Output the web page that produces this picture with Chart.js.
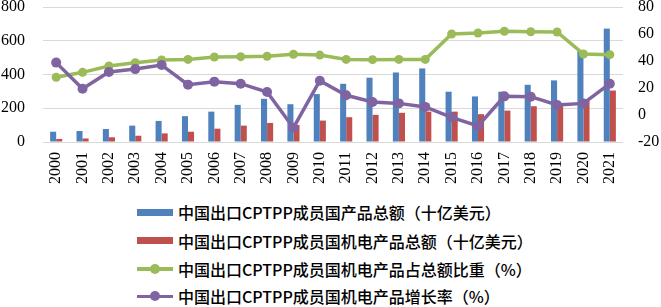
<!DOCTYPE html>
<html>
<head>
<meta charset="utf-8">
<script src="https://cdn.jsdelivr.net/npm/chart.js@4.4.0/dist/chart.umd.min.js"></script>
<style>
  html, body { margin: 0; padding: 0; background: #fff; }
  #wrap { position: relative; width: 661px; height: 307px; overflow: hidden; }
  #box { position: absolute; left: 0; top: 0; width: 661px; height: 196px; }
  .leg { position: absolute; left: 137px; height: 20px; display: flex; align-items: center;
         font-family: "Noto Sans CJK SC", "Noto Sans", sans-serif; font-size: 16px; font-weight: 500; color: #000; white-space: nowrap; }
  .mk { position: relative; width: 36px; height: 20px; margin-right: 5px; }
  .bar { position: absolute; left: 0; top: 6.5px; width: 36px; height: 7px; }
  .ln { position: absolute; left: 0; top: 8.5px; width: 36px; height: 3.5px; }
  .dot { position: absolute; left: 13px; top: 5px; width: 10px; height: 10px; border-radius: 50%; }
</style>
</head>
<body>
<div id="wrap">
  <div id="box"><canvas id="c"></canvas></div>
  <div id="legend"></div>
</div>
<script>
const categories = ["2000","2001","2002","2003","2004","2005","2006","2007","2008","2009","2010","2011","2012","2013","2014","2015","2016","2017","2018","2019","2020","2021"];
const totalExports = [61, 65, 77, 97, 125, 153, 180, 220, 256, 224, 284, 345, 381, 412, 436, 298, 270, 298, 339, 365, 543, 672];
const mechExports = [18, 21, 28, 37, 51, 61, 79, 97, 113, 101, 127, 147, 161, 173, 180, 180, 165, 186, 212, 225, 245, 305];
const mechShare = [28, 31.6, 36.3, 38.7, 40.7, 41.2, 43, 43.2, 43.5, 45, 44.4, 41.2, 41, 41.2, 41.2, 60, 60.7, 62, 61.7, 61.5, 45.2, 44.7];
const mechGrowth = [38.8, 19.5, 31.9, 34, 37, 22.5, 24.7, 23.2, 17, -9.4, 25.4, 14.6, 9.6, 8.6, 6, -1.7, -8.1, 13.8, 13.6, 7.4, 8.6, 23.2];
const leftTicks = [0, 200, 400, 600, 800];
const rightTicks = [-20, 0, 20, 40, 60, 80];
const seriesNames = [
  "中国出口CPTPP成员国产品总额（十亿美元）",
  "中国出口CPTPP成员国机电产品总额（十亿美元）",
  "中国出口CPTPP成员国机电产品占总额比重（%）",
  "中国出口CPTPP成员国机电产品增长率（%）"
];
const colors = ["#4F81BD", "#C0504D", "#9BBB59", "#8064A2"];

const SERIF_FONT = "16px 'Liberation Serif', 'Times New Roman', serif";

function fixPad(s) { s.paddingTop = 7; s.paddingBottom = 7; }

// Tick labels drawn at the positions given by the chart's own scales
const tickLabels = {
  id: 'tickLabels',
  afterDraw(chart) {
    const ctx = chart.ctx;
    const area = chart.chartArea;
    const sx = chart.scales.x, sy = chart.scales.y, sy1 = chart.scales.y1;
    ctx.save();
    ctx.font = SERIF_FONT;
    ctx.fillStyle = '#000';
    ctx.textBaseline = 'middle';
    ctx.textAlign = 'right';
    leftTicks.forEach(v => ctx.fillText(String(v), area.left - 18, sy.getPixelForValue(v)));
    ctx.textAlign = 'left';
    rightTicks.forEach(v => ctx.fillText(String(v), area.right + 15, sy1.getPixelForValue(v)));
    categories.forEach((c, i) => {
      ctx.save();
      ctx.translate(sx.getPixelForValue(i), area.bottom + 10);
      ctx.rotate(-Math.PI / 2);
      ctx.textAlign = 'right';
      ctx.fillText(c, 0, 0);
      ctx.restore();
    });
    ctx.restore();
  }
};

new Chart(document.getElementById('c'), {
  type: 'bar',
  plugins: [tickLabels],
  data: {
    labels: categories,
    datasets: [
      { type: 'bar', label: seriesNames[0], data: totalExports, backgroundColor: colors[0], yAxisID: 'y', order: 3,
        categoryPercentage: 0.46, barPercentage: 1 },
      { type: 'bar', label: seriesNames[1], data: mechExports, backgroundColor: colors[1], yAxisID: 'y', order: 3,
        categoryPercentage: 0.46, barPercentage: 1 },
      { type: 'line', label: seriesNames[2], data: mechShare, borderColor: colors[2], backgroundColor: colors[2],
        borderWidth: 3.5, pointRadius: 4.5, pointBackgroundColor: colors[2], pointBorderColor: colors[2], pointBorderWidth: 0,
        yAxisID: 'y1', order: 2, tension: 0 },
      { type: 'line', label: seriesNames[3], data: mechGrowth, borderColor: colors[3], backgroundColor: colors[3],
        borderWidth: 3.5, pointRadius: 5, pointBackgroundColor: colors[3], pointBorderColor: colors[3], pointBorderWidth: 0,
        yAxisID: 'y1', order: 1, tension: 0 }
    ]
  },
  options: {
    responsive: true,
    maintainAspectRatio: false,
    animation: false,
    devicePixelRatio: 1,
    layout: { padding: 0 },
    plugins: { legend: { display: false }, tooltip: { enabled: false } },
    scales: {
      x: {
        grid: { display: false },
        border: { display: false },
        ticks: { display: false, autoSkip: false },
        afterFit: (s) => { s.height = 54; }
      },
      y: {
        position: 'left',
        min: 0, max: 800,
        afterBuildTicks: (s) => { s.ticks = leftTicks.map(v => ({ value: v })); },
        grid: { color: '#D9D9D9', lineWidth: 1, drawTicks: false },
        border: { display: false },
        ticks: { display: false },
        afterFit: (s) => { s.width = 43; fixPad(s); }
      },
      y1: {
        position: 'right',
        min: -20, max: 80,
        afterBuildTicks: (s) => { s.ticks = rightTicks.map(v => ({ value: v })); },
        grid: { display: false, drawTicks: false },
        border: { display: false },
        ticks: { display: false },
        afterFit: (s) => { s.width = 38; fixPad(s); }
      }
    }
  }
});

const legend = document.getElementById('legend');
const rowCenters = [212, 240.5, 268.5, 296];
seriesNames.forEach((name, i) => {
  const row = document.createElement('div');
  row.className = 'leg';
  row.style.top = (rowCenters[i] - 10) + 'px';
  const mk = document.createElement('div');
  mk.className = 'mk';
  if (i < 2) {
    mk.innerHTML = '<div class="bar" style="background:' + colors[i] + '"></div>';
  } else {
    mk.innerHTML = '<div class="ln" style="background:' + colors[i] + '"></div><div class="dot" style="background:' + colors[i] + '"></div>';
  }
  row.appendChild(mk);
  const t = document.createElement('span');
  t.textContent = name;
  row.appendChild(t);
  legend.appendChild(row);
});
</script>
</body>
</html>
